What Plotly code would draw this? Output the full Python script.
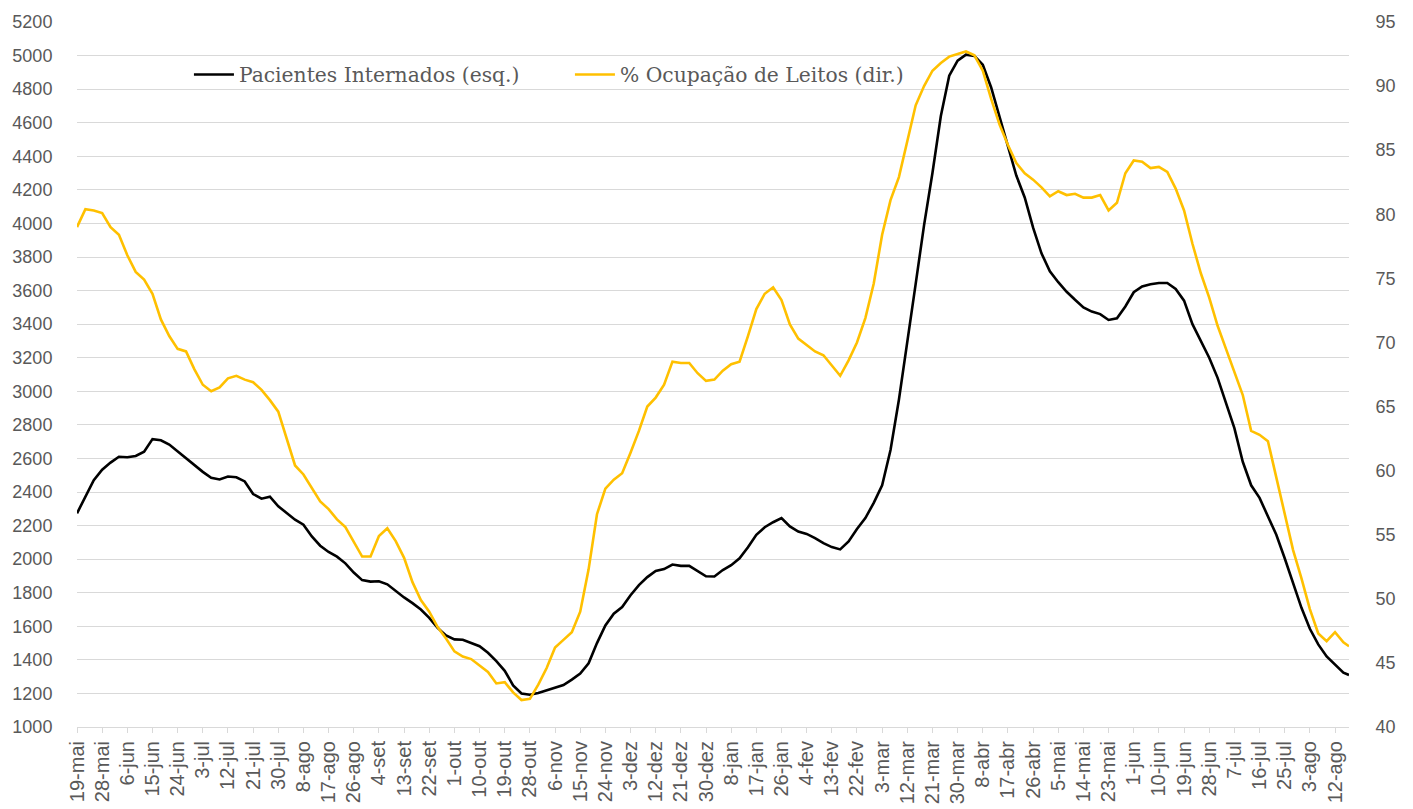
import datetime as dt
import plotly.graph_objects as go

# --- data (sampled every 3 days from 19-mai-2020; last point 17-ago-2021) ---
start = dt.date(2020, 5, 19)
day_offsets = list(range(0, 454, 3)) + [455]

pacientes = [
    2273, 2370, 2470, 2533, 2575, 2610, 2607, 2615, 2640, 2715,
    2708, 2683, 2642, 2600, 2560, 2520, 2485, 2475, 2492, 2488,
    2463, 2388, 2360, 2372, 2315, 2275, 2235, 2205, 2135, 2080,
    2043, 2015, 1975, 1920, 1875, 1866, 1868, 1850, 1810, 1772,
    1738, 1700, 1650, 1590, 1545, 1522, 1520, 1499, 1481, 1442,
    1392, 1335, 1248, 1200, 1192, 1202, 1218, 1230, 1250, 1282,
    1318, 1380, 1500, 1605, 1675, 1715, 1785, 1845, 1893, 1930,
    1941, 1968, 1960, 1960, 1931, 1898, 1897, 1935, 1964, 2005,
    2071, 2145, 2190, 2220, 2244, 2195, 2164, 2150, 2125, 2095,
    2072, 2058, 2105, 2180, 2245, 2335, 2440, 2650, 2950, 3280,
    3640, 3990, 4300, 4640, 4880, 4970, 5005, 4998, 4945, 4810,
    4640, 4465, 4285, 4155, 3975, 3822, 3715, 3650, 3593, 3545,
    3500, 3475, 3460, 3425, 3435, 3505, 3590, 3625, 3638, 3645,
    3645, 3610, 3540, 3400, 3300, 3200, 3080, 2935, 2780, 2580,
    2440, 2365, 2260, 2145, 2005, 1856, 1710, 1585, 1492, 1420,
    1372, 1324, 1310,
]

ocupacao = [
    79.0, 80.4, 80.3, 80.1, 79.0, 78.4, 76.8, 75.5, 74.9, 73.8,
    71.8, 70.5, 69.5, 69.3, 67.9, 66.7, 66.2, 66.5, 67.2, 67.4,
    67.1, 66.9, 66.3, 65.5, 64.6, 62.4, 60.4, 59.7, 58.7, 57.6,
    57.0, 56.2, 55.6, 54.5, 53.3, 53.3, 54.9, 55.5, 54.5, 53.2,
    51.3, 49.9, 49.0, 47.8, 46.9, 45.9, 45.5, 45.3, 44.8, 44.3,
    43.4, 43.5, 42.7, 42.1, 42.2, 43.3, 44.6, 46.2, 46.8, 47.4,
    49.0, 52.3, 56.6, 58.6, 59.3, 59.8, 61.4, 63.1, 65.0, 65.7,
    66.7, 68.5, 68.4, 68.4, 67.6, 67.0, 67.1, 67.8, 68.3, 68.5,
    70.5, 72.6, 73.8, 74.3, 73.3, 71.4, 70.3, 69.8, 69.3, 69.0,
    68.2, 67.4, 68.6, 70.0, 71.9, 74.6, 78.4, 81.1, 82.9, 85.7,
    88.5, 90.0, 91.2, 91.8, 92.3, 92.5, 92.7, 92.4, 91.2, 89.0,
    87.0, 85.4, 84.0, 83.2, 82.7, 82.1, 81.4, 81.8, 81.5, 81.6,
    81.3, 81.3, 81.5, 80.3, 80.9, 83.2, 84.2, 84.1, 83.6, 83.7,
    83.3, 82.0, 80.3, 77.7, 75.4, 73.5, 71.3, 69.5, 67.7, 65.9,
    63.1, 62.8, 62.3, 59.5, 56.8, 53.8, 51.6, 49.2, 47.3, 46.7,
    47.4, 46.6, 46.3,
]

tick_labels = [
    "19-mai", "28-mai", "6-jun", "15-jun", "24-jun", "3-jul", "12-jul", "21-jul",
    "30-jul", "8-ago", "17-ago", "26-ago", "4-set", "13-set", "22-set", "1-out",
    "10-out", "19-out", "28-out", "6-nov", "15-nov", "24-nov", "3-dez", "12-dez",
    "21-dez", "30-dez", "8-jan", "17-jan", "26-jan", "4-fev", "13-fev", "22-fev",
    "3-mar", "12-mar", "21-mar", "30-mar", "8-abr", "17-abr", "26-abr", "5-mai",
    "14-mai", "23-mai", "1-jun", "10-jun", "19-jun", "28-jun", "7-jul", "16-jul",
    "25-jul", "3-ago", "12-ago",
]

assert len(pacientes) == len(ocupacao) == len(day_offsets)

dates = [start + dt.timedelta(days=d) for d in day_offsets]
tick_vals = [start + dt.timedelta(days=9 * i) for i in range(len(tick_labels))]

GRAY = "#595959"
GRID = "#d9d9d9"
Y_FONT = dict(family="Liberation Sans, Arial, sans-serif", size=18, color=GRAY)
X_FONT = dict(family="Liberation Sans, Arial, sans-serif", size=20, color=GRAY)

fig = go.Figure()
fig.add_trace(go.Scatter(
    x=dates, y=pacientes, name="Pacientes Internados (esq.)",
    mode="lines", line=dict(color="#000000", width=2.6), yaxis="y",
))
fig.add_trace(go.Scatter(
    x=dates, y=ocupacao, name="% Ocupação de Leitos (dir.)",
    mode="lines", line=dict(color="#FFC000", width=2.6), yaxis="y2",
))

# the page body adds an 8px offset, so margins are reduced accordingly
fig.update_layout(
    width=1405, height=801,
    margin=dict(l=69, r=64, t=14, b=82),
    paper_bgcolor="white", plot_bgcolor="white",
    showlegend=True,
    legend=dict(
        orientation="h", x=0.088, xanchor="left", y=0.925, yanchor="middle",
        font=dict(family="DejaVu Serif, serif", size=20.3, color=GRAY),
        bgcolor="rgba(0,0,0,0)", entrywidth=326, entrywidthmode="pixels",
        itemwidth=40,
    ),
    xaxis=dict(
        type="date",
        range=[str(start), str(start + dt.timedelta(days=455, hours=14))],
        tickmode="array", tickvals=tick_vals, ticktext=tick_labels,
        tickangle=-90, tickfont=X_FONT,
        ticks="outside", ticklen=5, tickcolor=GRID, tickwidth=1,
        showline=True, linecolor=GRID, linewidth=1,
        showgrid=False, zeroline=False, automargin=False,
    ),
    yaxis=dict(
        range=[1000, 5200], dtick=200, tick0=1000,
        showgrid=True, gridcolor=GRID, gridwidth=1,
        zeroline=False, showline=False,
        tickfont=Y_FONT, ticks="outside", ticklen=20,
        tickcolor="rgba(0,0,0,0)", automargin=False,
    ),
    yaxis2=dict(
        range=[40, 95], dtick=5, tick0=40,
        overlaying="y", side="right", showgrid=False,
        zeroline=False, showline=False,
        tickfont=Y_FONT, ticks="outside", ticklen=22,
        tickcolor="rgba(0,0,0,0)", automargin=False,
    ),
)

fig.write_html("out.html")
